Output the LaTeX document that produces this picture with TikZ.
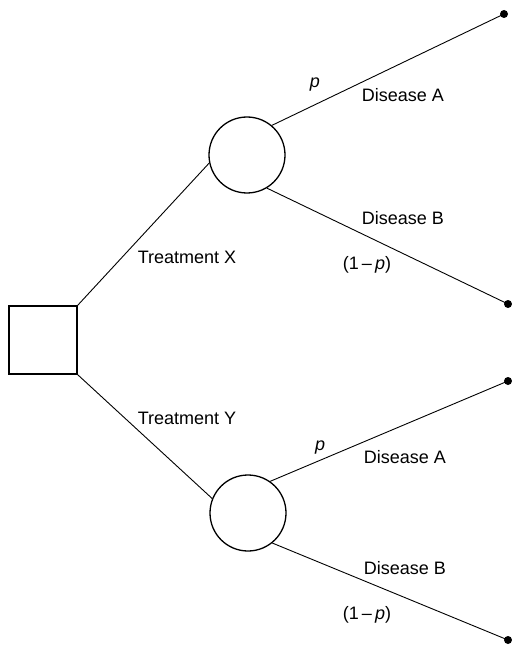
\documentclass[tikz,border=0pt]{standalone}
\usepackage{fontspec}
\setmainfont{Liberation Sans}
\usetikzlibrary{positioning}

\begin{document}
\begin{tikzpicture}[
        x={(1pt,0pt)}, y={(0pt,-1pt)},
        font=\fontsize{18}{21}\selectfont,
        decision/.style={draw, line width=1.3pt, minimum size=68pt, inner sep=0pt},
        chance/.style={draw, circle, line width=1.3pt, minimum size=76pt, inner sep=0pt},
        outcome/.style={circle, fill, minimum size=8pt, inner sep=0pt},
        branch/.style={line width=0.9pt},
        lbl/.style={inner sep=1pt}
        ]
        \useasboundingbox (0,0) rectangle (511,647);
        % decision and chance nodes
        \node[decision] (D) at (43,340) {};
        \node[chance] (C1) at (247,155) {};
        \node[chance] (C2) at (248,513) {};
        % end points
        \node[outcome] (E1) at (504,14) {};
        \node[outcome] (E2) at (508,304) {};
        \node[outcome] (E3) at (508,381) {};
        \node[outcome] (E4) at (508,640) {};
        % branches
        \draw[branch] (D.north east) -- (C1.192);
        \draw[branch] (D.south east) -- (C2.158);
        \draw[branch] (C1.50) -- (E1.center);
        \draw[branch] (C1.-59) -- (E2.center);
        \draw[branch] (C2.55) -- (E3.center);
        \draw[branch] (C2.-51) -- (E4.center);
        % labels
        \node[lbl] (tx) at (187,257) {Treatment X};
        \node[lbl] (ty) at (187,418) {Treatment Y};
        \node[lbl] (p1) at (315,85) {\textit{p}};
        \node[lbl] (a1) at (403,95) {Disease A};
        \node[lbl] (b1) at (403,218) {Disease B};
        \node[lbl] (q1) at (367,265) {(1\,\textendash\,\textit{p})};
        \node[lbl] (p2) at (320,448) {\textit{p}};
        \node[lbl] (a2) at (405,457) {Disease A};
        \node[lbl] (b2) at (405,568) {Disease B};
        \node[lbl] (q2) at (367,615) {(1\,\textendash\,\textit{p})};
    \end{tikzpicture}
\end{document}
